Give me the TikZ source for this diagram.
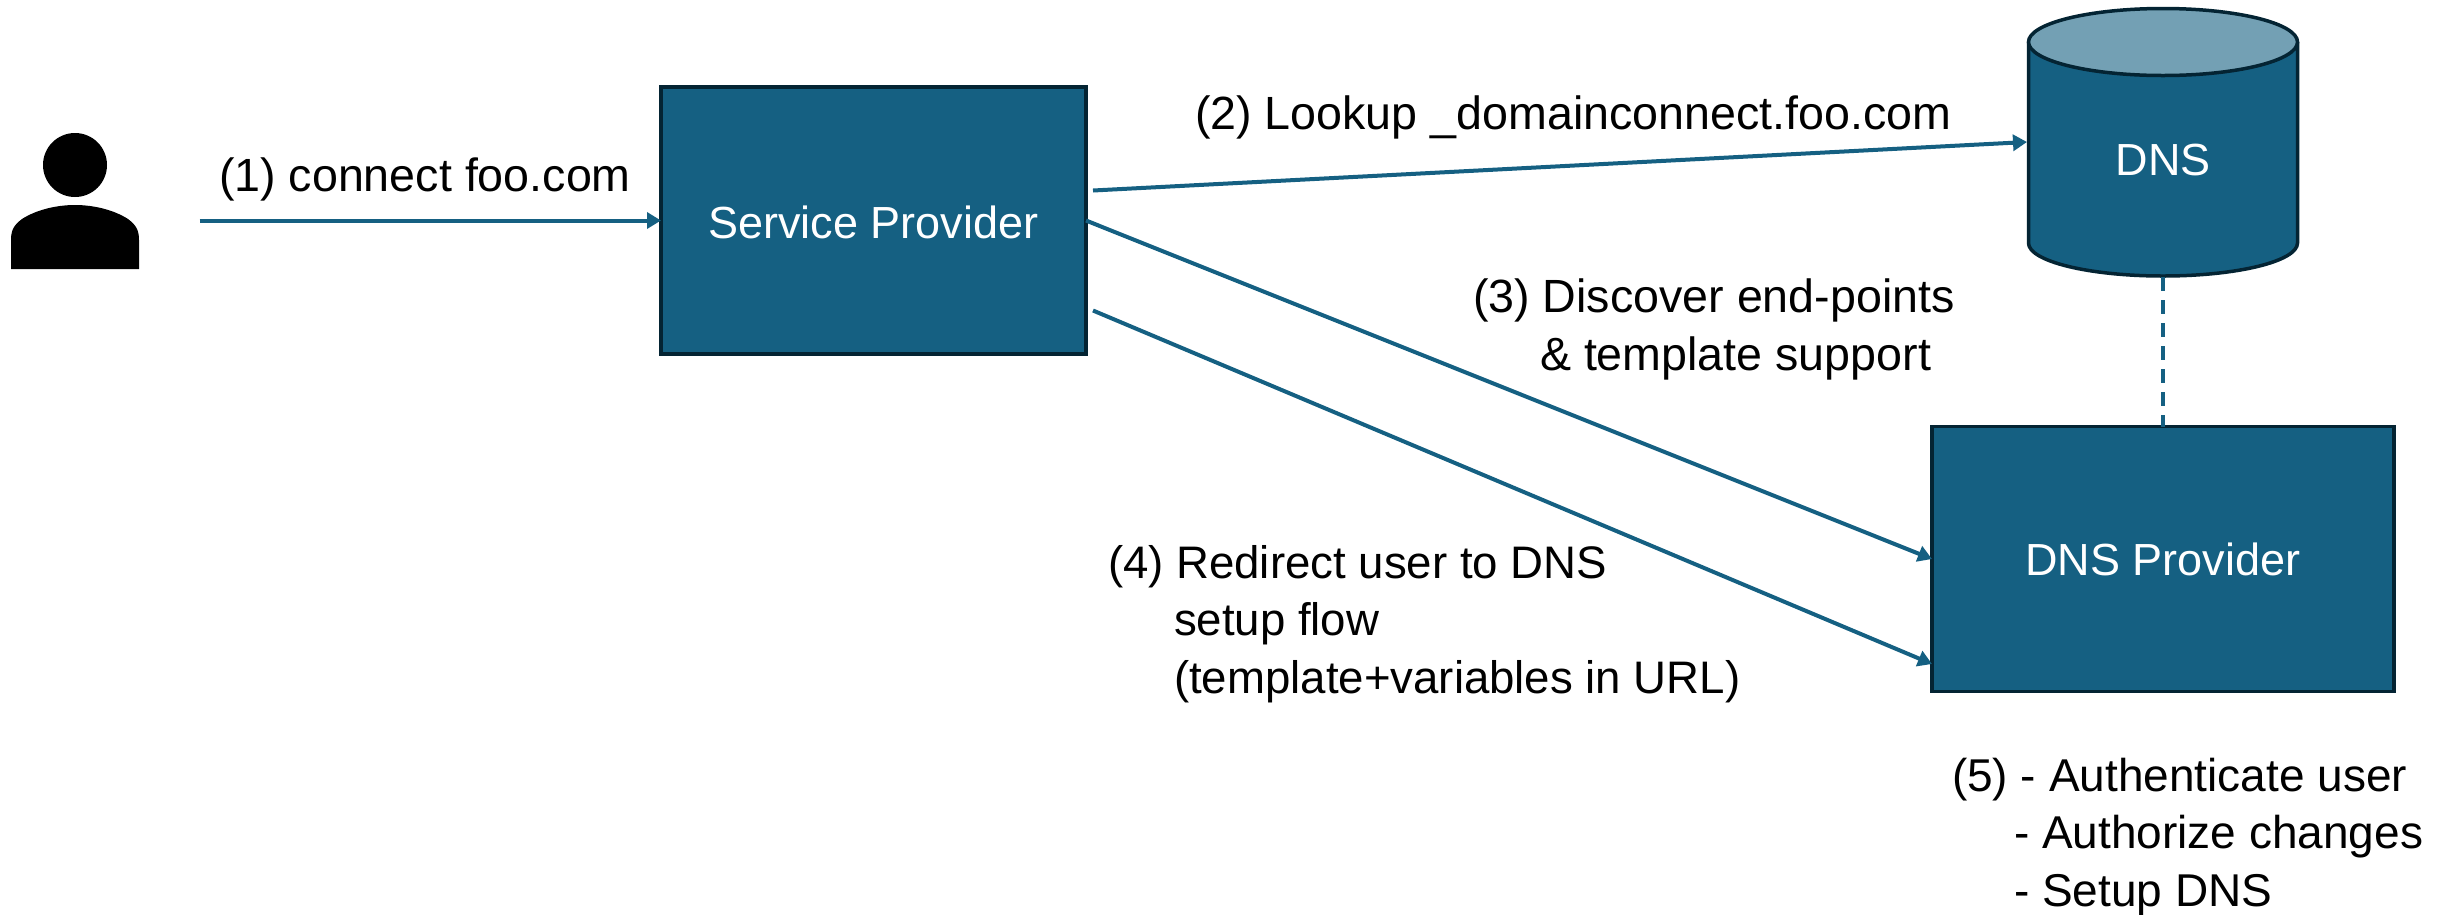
\documentclass[tikz,border=0pt]{standalone}
\usepackage{fontspec}
\setmainfont{Liberation Sans}
\usetikzlibrary{arrows.meta,calc}
\definecolor{boxfill}{HTML}{156082}
\definecolor{boxedge}{HTML}{042433}
\definecolor{captop}{HTML}{73A0B4}
\tikzset{
  box/.style={draw=boxedge,fill=boxfill,line width=3.5pt,rectangle,outer sep=0pt,inner sep=0pt,text=white,font=\fontsize{45}{57}\selectfont},
  cyl/.style={draw=boxedge,line width=3.5pt},
  flow/.style={draw=boxfill,line width=4pt,-{Triangle[length=14pt,width=16pt]}},
  link/.style={draw=boxfill,line width=4pt,dash pattern=on 14pt off 9pt},
  lbl/.style={anchor=north west,inner sep=0pt,outer sep=0pt,align=left,font=\fontsize{46.6}{57.5}\selectfont,text=black},
  lblsmall/.style={lbl,font=\fontsize{46}{57.5}\selectfont}
}
\begin{document}
\begin{tikzpicture}[x=1pt,y=-1pt]
\useasboundingbox (0,0) rectangle (2450,914);
% person
\fill[black] (75,165) ellipse [x radius=32,y radius=32];
\fill[black] (11,269) -- (11,240) .. controls (11,230) and (14,225) .. (22,219) .. controls (36,210) and (56,205) .. (75,205) .. controls (94,205) and (114,210) .. (128,219) .. controls (136,225) and (139,230) .. (139,240) -- (139,269) -- cycle;
\node[inner sep=0pt,outer sep=0pt,minimum width=189pt,minimum height=1pt] (person) at (105,220.5) {};
% cylinder
\draw[cyl,fill=boxfill] (2028.5,42) -- (2028.5,243) arc [start angle=180,end angle=0,x radius=134.5,y radius=33] -- (2297.5,42);
\draw[cyl,fill=captop] (2163,42) ellipse [x radius=134.5,y radius=33.5];
\node[inner sep=0pt,outer sep=0pt,minimum width=272pt,minimum height=234pt,text=white,font=\fontsize{45}{57}\selectfont] (dns) at (2163,160) {DNS};
% boxes
\node[box,minimum width=425pt,minimum height=267pt] (sp) at (873.5,220.5) {\rule{0pt}{36pt}Service Provider};
\node[box,minimum width=462pt,minimum height=265pt] (prov) at (2163,559) {DNS Provider};
% connectors
\draw[flow] (person.east) -- (sp.west);
\draw[flow] ($(sp.east)+(7,-30)$) -- ($(dns.west)+(0,-18)$);
\draw[flow] (sp.east) -- (prov.west);
\draw[flow] ($(sp.east)+(7,90)$) -- ($(prov.west)+(0,105)$);
\draw[link] (dns.south) -- (prov.north);
% labels
\node[lbl] (l1) at (219,157.5) {(1) connect foo.com};
\node[lbl] (l2) at (1195,95.5) {(2) Lookup \_domainconnect.foo.com};
\node[lbl] (l3) at (1473,279) {(3) Discover end-points\\\hspace*{67pt}\& template support};
\node[lblsmall,font=\fontsize{45.6}{57.5}\selectfont] (l4) at (1108,545) {(4) Redirect user to DNS\\\hspace*{66pt}setup flow\\\hspace*{66pt}(template+variables in URL)};
\node[lblsmall] (l5) at (1952,758) {(5) - Authenticate user\\\hspace*{62pt}- Authorize changes\\\hspace*{62pt}- Setup DNS};
\end{tikzpicture}
\end{document}
